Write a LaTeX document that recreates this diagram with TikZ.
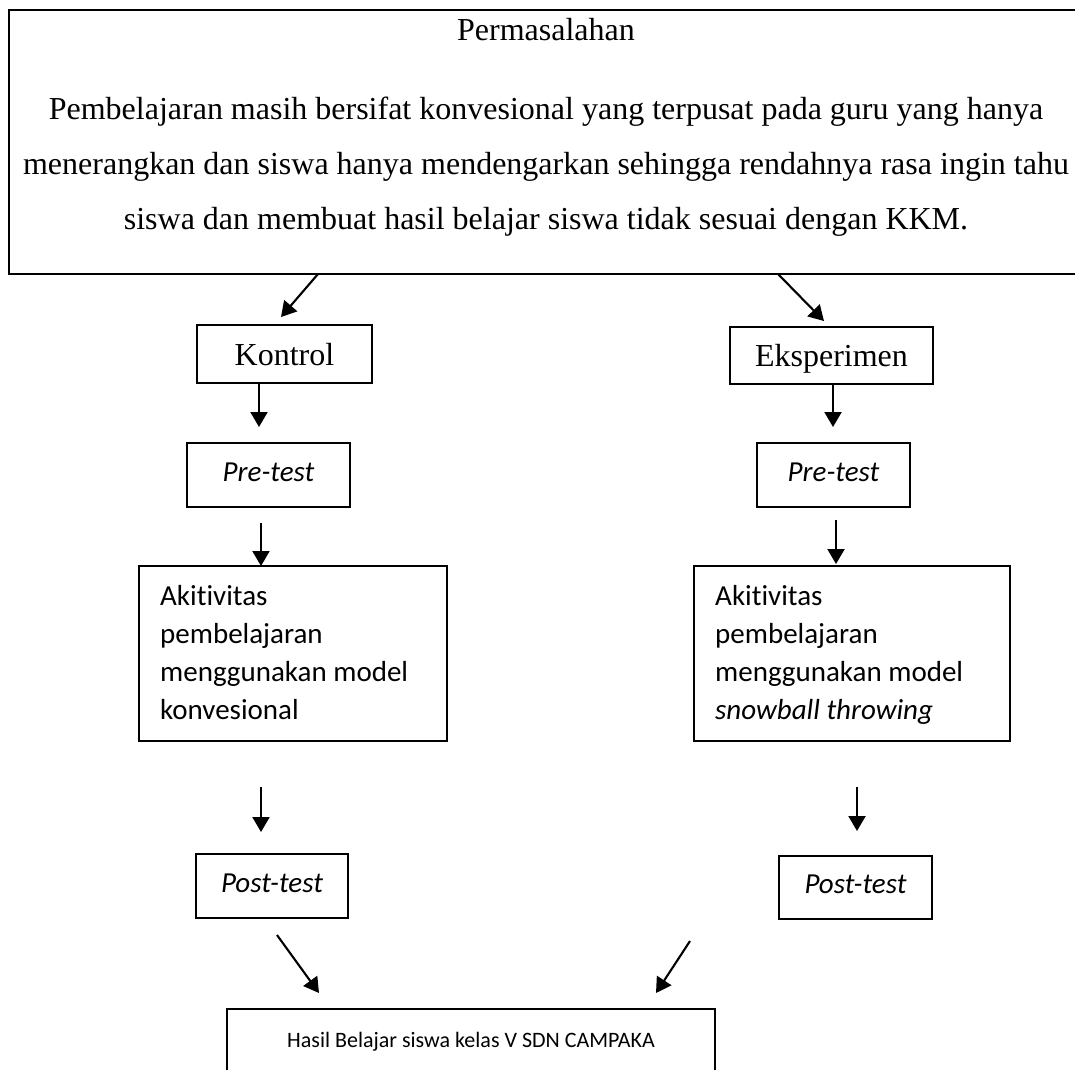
\documentclass[tikz,border=0pt]{standalone}
\usepackage{fontspec}
\setmainfont[Ligatures={NoCommon}]{Liberation Serif}
\newfontfamily\calfont[Ligatures={NoCommon}]{Carlito}
\usetikzlibrary{arrows.meta}
\begin{document}
\begin{tikzpicture}[x=1pt,y=-1pt,
  bigbox/.style={draw, line width=2.7pt, inner sep=0pt},
  tbox/.style={draw, line width=1.3pt, inner sep=0pt, font=\fontsize{32}{38}\selectfont, text height=22pt, text depth=0pt},
  cbox/.style={draw, line width=1.3pt, inner sep=0pt, font=\calfont\itshape\fontsize{29}{38}\selectfont, text height=19pt, text depth=7pt},
  actbox/.style={draw, line width=1.3pt, inner sep=0pt},
  acttext/.style={anchor=north west, inner sep=0pt, align=left, font=\calfont\fontsize{29}{38}\selectfont},
  conn/.style={line width=2.1pt, -{Triangle[length=15pt,width=17pt]}}
]
\useasboundingbox (0,0) rectangle (1075,1069);
\clip (0,0) rectangle (1075,1069);

% top problem box
\node[bigbox, minimum width=1074pt, minimum height=264pt] (prob) at (546,142) {};
\node[anchor=base, inner sep=0pt, font=\fontsize{32}{38}\selectfont] (probtitle) at (546,40) {Permasalahan};
\node[anchor=north, inner sep=0pt, align=center, font=\fontsize{32}{55}\selectfont] (probtext) at (546,97)
  {Pembelajaran masih bersifat konvesional yang terpusat pada guru yang hanya\\
   menerangkan dan siswa hanya mendengarkan sehingga rendahnya rasa ingin tahu\\
   siswa dan membuat hasil belajar siswa tidak sesuai dengan KKM.};

% group boxes
\node[tbox, minimum width=175pt, minimum height=58pt] (kontrol) at (284.5,354) {Kontrol};
\node[tbox, minimum width=203pt, minimum height=57pt] (eksp) at (831.5,355.5) {Eksperimen};

\node[cbox, minimum width=163pt, minimum height=64pt] (preL) at (268.5,475) {Pre-test};
\node[cbox, minimum width=153pt, minimum height=64pt] (preR) at (833.5,475) {Pre-test};

\node[actbox, minimum width=308pt, minimum height=175pt] (actL) at (293,653.5) {};
\node[acttext] (actLtext) at (160,585) {Akitivitas\\pembelajaran\\menggunakan model\\konvesional};
\node[actbox, minimum width=316pt, minimum height=175pt] (actR) at (852,653.5) {};
\node[acttext] (actRtext) at (715,585) {Akitivitas\\pembelajaran\\menggunakan model\\\textit{snowball throwing}};

\node[cbox, minimum width=152pt, minimum height=64pt] (postL) at (272,886) {Post-test};
\node[cbox, minimum width=153pt, minimum height=63pt] (postR) at (855.5,887.5) {Post-test};

\node[actbox, line width=1.2pt, minimum width=488pt, minimum height=90pt] (hasil) at (471,1054) {};
\node[anchor=base, inner sep=0pt, font=\calfont\fontsize{22}{26}\selectfont] (hasiltext) at (471,1047) {Hasil Belajar siswa kelas V SDN CAMPAKA};

% connector end points
\coordinate (c1s) at (318,274);  \coordinate (c1e) at (281,317);
\coordinate (c2s) at (778,274);  \coordinate (c2e) at (824,321);
\coordinate (c3s) at (259,383);  \coordinate (c3e) at (259,427);
\coordinate (c4s) at (833,384);  \coordinate (c4e) at (833,427);
\coordinate (c5s) at (261,523);  \coordinate (c5e) at (261,566);
\coordinate (c6s) at (836,520);  \coordinate (c6e) at (836,564);
\coordinate (c7s) at (261,787);  \coordinate (c7e) at (261,832);
\coordinate (c8s) at (857,787);  \coordinate (c8e) at (857,831);
\coordinate (c9s) at (277,935);  \coordinate (c9e) at (319,993);
\coordinate (c10s) at (690,941); \coordinate (c10e) at (656,993);

\draw[conn] (c1s) -- (c1e);
\draw[conn] (c2s) -- (c2e);
\draw[conn] (c3s) -- (c3e);
\draw[conn] (c4s) -- (c4e);
\draw[conn] (c5s) -- (c5e);
\draw[conn] (c6s) -- (c6e);
\draw[conn] (c7s) -- (c7e);
\draw[conn] (c8s) -- (c8e);
\draw[conn] (c9s) -- (c9e);
\draw[conn] (c10s) -- (c10e);
\end{tikzpicture}
\end{document}
